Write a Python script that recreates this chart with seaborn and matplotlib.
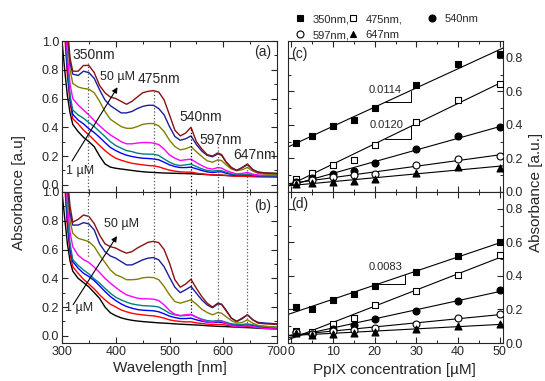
import numpy as np
import pandas as pd
import matplotlib
matplotlib.use("Agg")
import matplotlib.pyplot as plt
import seaborn as sns
from matplotlib.lines import Line2D
from matplotlib.ticker import MultipleLocator

# ---------------- data ----------------
wavelength = [300, 305, 310, 315, 320, 330, 340, 350, 360, 370, 380, 390, 400, 410, 420,
              430, 440, 450, 460, 470, 480, 490, 500, 510, 520, 530, 540, 550, 560, 570,
              580, 590, 597, 605, 615, 625, 635, 645, 655, 665, 680, 700]

conc = [1, 5, 10, 15, 20, 30, 40, 50]
conc_labels = ["1", "5", "10", "15", "20", "30", "40", "50"]

# panel (a) spectra
a_1 = [1.0, 0.8, 0.62, 0.5, 0.42, 0.37, 0.33, 0.3, 0.265, 0.2, 0.145, 0.123, 0.115, 0.11, 0.105,
       0.1, 0.095, 0.091, 0.088, 0.086, 0.084, 0.082, 0.081, 0.08, 0.079, 0.078, 0.077, 0.075, 0.073, 0.071,
       0.069, 0.067, 0.066, 0.065, 0.063, 0.061, 0.06, 0.059, 0.058, 0.057, 0.056, 0.055]
a_5 = [1.3, 1.05, 0.76, 0.57, 0.46, 0.424, 0.38, 0.347, 0.31, 0.273, 0.238, 0.208, 0.185, 0.171, 0.16,
       0.15, 0.144, 0.139, 0.134, 0.132, 0.125, 0.113, 0.102, 0.095, 0.09, 0.088, 0.088, 0.081, 0.076, 0.072,
       0.069, 0.068, 0.068, 0.065, 0.062, 0.06, 0.059, 0.059, 0.058, 0.057, 0.057, 0.056]
a_10 = [1.35, 1.1, 0.8, 0.6, 0.49, 0.45, 0.424, 0.39, 0.363, 0.33, 0.294, 0.26, 0.238, 0.22, 0.206,
        0.197, 0.19, 0.185, 0.183, 0.18, 0.174, 0.157, 0.139, 0.127, 0.12, 0.12, 0.123, 0.111, 0.1, 0.09,
        0.086, 0.09, 0.09, 0.081, 0.072, 0.067, 0.067, 0.069, 0.065, 0.062, 0.061, 0.06]
a_15 = [1.4, 1.15, 0.85, 0.62, 0.52, 0.486, 0.463, 0.433, 0.405, 0.37, 0.336, 0.3, 0.273, 0.255, 0.238,
        0.231, 0.22, 0.215, 0.213, 0.213, 0.204, 0.18, 0.157, 0.141, 0.134, 0.139, 0.144, 0.127, 0.111, 0.1,
        0.095, 0.1, 0.098, 0.088, 0.076, 0.07, 0.07, 0.074, 0.068, 0.064, 0.063, 0.062]
a_20 = [1.45, 1.2, 0.9, 0.7, 0.6, 0.555, 0.52, 0.486, 0.447, 0.41, 0.377, 0.347, 0.324, 0.3, 0.285,
        0.285, 0.29, 0.294, 0.294, 0.29, 0.28, 0.248, 0.208, 0.185, 0.169, 0.174, 0.178, 0.155, 0.134, 0.116,
        0.109, 0.12, 0.116, 0.1, 0.086, 0.076, 0.079, 0.086, 0.074, 0.068, 0.066, 0.065]
a_30 = [1.5, 1.25, 1.0, 0.8, 0.705, 0.68, 0.67, 0.665, 0.64, 0.58, 0.51, 0.456, 0.43, 0.405, 0.393,
        0.393, 0.405, 0.42, 0.426, 0.426, 0.41, 0.37, 0.31, 0.266, 0.243, 0.25, 0.266, 0.23, 0.197, 0.167,
        0.157, 0.174, 0.168, 0.14, 0.11, 0.098, 0.105, 0.12, 0.095, 0.08, 0.074, 0.07]
a_40 = [1.55, 1.3, 1.05, 0.85, 0.77, 0.76, 0.79, 0.78, 0.74, 0.66, 0.59, 0.55, 0.525, 0.5, 0.5,
        0.51, 0.53, 0.545, 0.553, 0.553, 0.53, 0.486, 0.405, 0.336, 0.31, 0.32, 0.34, 0.28, 0.235, 0.205,
        0.195, 0.215, 0.205, 0.16, 0.12, 0.1, 0.118, 0.14, 0.105, 0.088, 0.082, 0.078]
a_50 = [1.6, 1.35, 1.1, 0.88, 0.79, 0.79, 0.83, 0.83, 0.78, 0.69, 0.64, 0.61, 0.6, 0.58, 0.56,
        0.58, 0.61, 0.64, 0.65, 0.655, 0.645, 0.59, 0.486, 0.38, 0.34, 0.36, 0.4, 0.3, 0.25, 0.21,
        0.2, 0.222, 0.21, 0.16, 0.12, 0.1, 0.12, 0.145, 0.105, 0.088, 0.082, 0.08]

# panel (b) spectra
b_1 = [1.0, 0.82, 0.64, 0.52, 0.45, 0.4, 0.37, 0.34, 0.3, 0.26, 0.2, 0.16, 0.14, 0.125, 0.115,
       0.108, 0.103, 0.099, 0.096, 0.093, 0.09, 0.088, 0.086, 0.083, 0.081, 0.079, 0.077, 0.075, 0.073, 0.07,
       0.068, 0.066, 0.065, 0.064, 0.062, 0.06, 0.058, 0.057, 0.055, 0.053, 0.05, 0.048]
b_5 = [1.3, 1.05, 0.76, 0.57, 0.48, 0.435, 0.393, 0.36, 0.326, 0.285, 0.25, 0.22, 0.2, 0.18, 0.167,
       0.157, 0.15, 0.146, 0.141, 0.139, 0.132, 0.123, 0.111, 0.104, 0.1, 0.097, 0.097, 0.09, 0.086, 0.081,
       0.079, 0.079, 0.079, 0.074, 0.069, 0.067, 0.065, 0.065, 0.062, 0.06, 0.058, 0.056]
b_10 = [1.35, 1.1, 0.8, 0.6, 0.516, 0.47, 0.435, 0.412, 0.384, 0.347, 0.308, 0.273, 0.245, 0.222, 0.204,
        0.192, 0.183, 0.178, 0.176, 0.174, 0.167, 0.153, 0.137, 0.127, 0.12, 0.12, 0.123, 0.111, 0.102, 0.095,
        0.093, 0.095, 0.093, 0.086, 0.079, 0.074, 0.074, 0.076, 0.072, 0.065, 0.062, 0.058]
b_15 = [1.4, 1.15, 0.85, 0.64, 0.53, 0.49, 0.458, 0.43, 0.396, 0.366, 0.33, 0.296, 0.268, 0.25, 0.234,
        0.222, 0.215, 0.21, 0.208, 0.206, 0.2, 0.18, 0.157, 0.146, 0.139, 0.141, 0.146, 0.13, 0.116, 0.106,
        0.102, 0.106, 0.104, 0.095, 0.083, 0.079, 0.079, 0.083, 0.076, 0.069, 0.065, 0.06]
b_20 = [1.45, 1.2, 0.92, 0.72, 0.62, 0.56, 0.53, 0.51, 0.477, 0.44, 0.4, 0.366, 0.336, 0.308, 0.285,
        0.273, 0.262, 0.257, 0.257, 0.255, 0.245, 0.215, 0.176, 0.15, 0.141, 0.146, 0.15, 0.13, 0.111, 0.097,
        0.093, 0.102, 0.1, 0.088, 0.072, 0.065, 0.065, 0.072, 0.065, 0.056, 0.051, 0.046]
b_30 = [1.5, 1.25, 1.0, 0.8, 0.713, 0.678, 0.667, 0.655, 0.62, 0.56, 0.51, 0.458, 0.424, 0.41, 0.39,
        0.39, 0.393, 0.403, 0.407, 0.405, 0.39, 0.343, 0.285, 0.238, 0.227, 0.238, 0.25, 0.22, 0.185, 0.162,
        0.146, 0.162, 0.157, 0.134, 0.106, 0.088, 0.093, 0.111, 0.088, 0.072, 0.065, 0.058]
b_40 = [1.55, 1.3, 1.05, 0.85, 0.77, 0.77, 0.787, 0.778, 0.736, 0.64, 0.585, 0.555, 0.54, 0.516, 0.493,
        0.493, 0.51, 0.528, 0.54, 0.544, 0.528, 0.48, 0.407, 0.338, 0.3, 0.32, 0.343, 0.296, 0.25, 0.215,
        0.195, 0.222, 0.218, 0.176, 0.123, 0.1, 0.118, 0.146, 0.111, 0.093, 0.088, 0.083]
b_50 = [1.6, 1.35, 1.1, 0.9, 0.79, 0.81, 0.84, 0.83, 0.78, 0.7, 0.64, 0.62, 0.61, 0.59, 0.575,
        0.585, 0.61, 0.63, 0.65, 0.657, 0.648, 0.6, 0.505, 0.39, 0.338, 0.36, 0.393, 0.33, 0.273, 0.227,
        0.2, 0.227, 0.22, 0.18, 0.123, 0.1, 0.123, 0.146, 0.111, 0.088, 0.083, 0.079]

# panel (c) absorbance vs concentration
c_350 = [0.292, 0.335, 0.393, 0.431, 0.500, 0.635, 0.764, 0.824]
c_475 = [0.080, 0.115, 0.160, 0.190, 0.280, 0.415, 0.546, 0.643]
c_540 = [0.060, 0.083, 0.107, 0.127, 0.173, 0.256, 0.333, 0.385]
c_597 = [0.054, 0.070, 0.090, 0.100, 0.109, 0.161, 0.199, 0.212]
c_647 = [0.046, 0.054, 0.058, 0.067, 0.075, 0.113, 0.149, 0.143]

# panel (d)
d_350 = [0.215, 0.201, 0.255, 0.295, 0.342, 0.424, 0.519, 0.601]
d_475 = [0.070, 0.064, 0.113, 0.149, 0.225, 0.310, 0.408, 0.523]
d_540 = [0.064, 0.056, 0.084, 0.105, 0.143, 0.193, 0.249, 0.318]
d_597 = [0.064, 0.054, 0.070, 0.078, 0.090, 0.115, 0.149, 0.173]
d_647 = [0.060, 0.048, 0.054, 0.060, 0.064, 0.082, 0.100, 0.115]

series_labels = ["350nm", "475nm", "540nm", "597nm", "647nm"]
slope_c_350 = "0.0114"
slope_c_475 = "0.0120"
slope_d_350 = "0.0083"

# ---------------- style ----------------
sns.set_style("ticks")
plt.rcParams["font.family"] = ["Liberation Sans", "DejaVu Sans"]
plt.rcParams["axes.linewidth"] = 0.8
plt.rcParams["xtick.major.width"] = 0.8
plt.rcParams["ytick.major.width"] = 0.8
plt.rcParams["xtick.minor.width"] = 0.7
plt.rcParams["ytick.minor.width"] = 0.7

line_colors = ["#000000", "#ff0000", "#0000ff", "#008080", "#ff00ff", "#808000", "#1c1c9c", "#8b1010"]
pal = dict(zip(conc_labels, line_colors))

W, H = 545, 381
fig = plt.figure(figsize=(W / 100, H / 100), dpi=100)


def box(x0, y0, x1, y1):
    return [x0 / W, 1 - y1 / H, (x1 - x0) / W, (y1 - y0) / H]


ax_a = fig.add_axes(box(62, 41, 277, 192))
ax_b = fig.add_axes(box(62, 192, 277, 343))
ax_c = fig.add_axes(box(288, 41, 503, 192))
ax_d = fig.add_axes(box(288, 192, 503, 343))


def spectra_df(curves):
    rows = []
    for lab, vals in zip(conc_labels, curves):
        for w, v in zip(wavelength, vals):
            rows.append((w, v, lab))
    return pd.DataFrame(rows, columns=["wl", "A", "conc"])


df_a = spectra_df([a_1, a_5, a_10, a_15, a_20, a_30, a_40, a_50])
df_b = spectra_df([b_1, b_5, b_10, b_15, b_20, b_30, b_40, b_50])

for ax, df in [(ax_a, df_a), (ax_b, df_b)]:
    sns.lineplot(data=df, x="wl", y="A", hue="conc", palette=pal, hue_order=conc_labels,
                 estimator=None, sort=False, legend=False, lw=1.0, ax=ax)
    ax.set_xlim(300, 700)
    ax.set_ylim(-0.05, 1.0)
    ax.xaxis.set_major_locator(MultipleLocator(100))
    ax.xaxis.set_minor_locator(MultipleLocator(50))
    ax.yaxis.set_major_locator(MultipleLocator(0.2))
    ax.yaxis.set_minor_locator(MultipleLocator(0.1))
    ax.set_xlabel("")
    ax.set_ylabel("")
    ax.tick_params(which="both", direction="in", top=True, right=True, labelsize=9, pad=2)
    ax.tick_params(which="major", length=4)
    ax.tick_params(which="minor", length=2)
    ax.yaxis.set_major_formatter(matplotlib.ticker.FormatStrFormatter("%.1f"))

ax_a.tick_params(labelbottom=False)

# dotted guide lines
gray = "#555555"
for x, y0, col in [(349, 0.845, gray), (472, 0.655, gray), (540, 0.39, "k"), (590, 0.31, gray), (645, 0.15, gray)]:
    ax_a.plot([x, x], [y0, -0.05], ls=":", lw=0.9, color=col)
for x, y0, col in [(349, 0.55, gray), (472, 0.42, gray), (540, 0.15, "k"), (590, 0.09, gray), (645, 0.09, gray)]:
    ax_b.plot([x, x], [1.0, y0], ls=":", lw=0.9, color=col)

# peak labels
for txt, x, y in [("350nm", 359, 0.90), ("475nm", 480, 0.736), ("540nm", 558, 0.47),
                  ("597nm", 596, 0.31), ("647nm", 658, 0.21)]:
    ax_a.text(x, y, txt, fontsize=10, ha="center", va="center")

ax_a.text(403, 0.748, "50 µM", fontsize=9, ha="center", va="center")
ax_a.text(334, 0.097, "1 µM", fontsize=9, ha="center", va="center")
ax_a.annotate("", xy=(406, 0.695), xytext=(316, 0.15),
              arrowprops=dict(arrowstyle="-|>", lw=0.8, color="k", mutation_scale=8))
ax_a.text(674, 0.925, "(a)", fontsize=10, ha="center", va="center")

ax_b.text(411, 0.78, "50 µM", fontsize=9, ha="center", va="center")
ax_b.text(332, 0.19, "1 µM", fontsize=9, ha="center", va="center")
ax_b.annotate("", xy=(405, 0.71), xytext=(318, 0.2),
              arrowprops=dict(arrowstyle="-|>", lw=0.8, color="k", mutation_scale=8))
ax_b.text(674, 0.905, "(b)", fontsize=10, ha="center", va="center")

# ---------------- right panels ----------------
markers = {"350nm": ("s", "k"), "475nm": ("s", "white"), "540nm": ("o", "k"),
           "597nm": ("o", "white"), "647nm": ("^", "k")}

for ax, sets in [(ax_c, [c_350, c_475, c_540, c_597, c_647]),
                 (ax_d, [d_350, d_475, d_540, d_597, d_647])]:
    ax.set_xlim(-0.8, 50.8)
    ax.set_ylim(0, 0.9)
    for lab, vals in zip(series_labels, sets):
        sns.regplot(x=np.array(conc, float), y=np.array(vals), scatter=False, ci=None,
                    truncate=False, color="k", line_kws=dict(lw=0.8), ax=ax)
    for lab, vals in zip(series_labels, sets):
        m, fc = markers[lab]
        sns.scatterplot(x=conc, y=vals, marker=m, s=25, color=fc, edgecolor="k",
                        linewidth=0.8, zorder=5, ax=ax)
    ax.set_xlim(-0.8, 50.8)
    ax.set_ylim(0, 0.9)
    ax.xaxis.set_major_locator(MultipleLocator(10))
    ax.xaxis.set_minor_locator(MultipleLocator(5))
    ax.yaxis.set_major_locator(MultipleLocator(0.2))
    ax.yaxis.set_minor_locator(MultipleLocator(0.1))
    ax.set_xlabel("")
    ax.set_ylabel("")
    ax.tick_params(which="both", direction="in", top=True, right=True, left=True,
                   labelleft=False, labelright=True, labelsize=9, pad=2)
    ax.tick_params(which="major", length=4)
    ax.tick_params(which="minor", length=2)
    ax.yaxis.set_major_formatter(matplotlib.ticker.FormatStrFormatter("%.1f"))

ax_c.tick_params(labelbottom=False)


def slope_triangle(ax, vals, x0, x1, text, tx, ty):
    k, b0 = np.polyfit(conc, vals, 1)
    y0 = k * x0 + b0
    y1 = k * x1 + b0
    ax.plot([x0, x1, x1], [y0, y0, y1], color="k", lw=0.7)
    ax.text(tx, ty, text, fontsize=8, ha="center", va="center")


slope_triangle(ax_c, c_350, 22.5, 28.6, slope_c_350, 22.4, 0.61)
slope_triangle(ax_c, c_475, 22.5, 28.7, slope_c_475, 22.9, 0.40)
slope_triangle(ax_d, d_350, 21.1, 27.2, slope_d_350, 22.5, 0.452)

ax_c.text(1.9, 0.82, "(c)", fontsize=10, ha="center", va="center")
ax_d.text(1.9, 0.83, "(d)", fontsize=10, ha="center", va="center")


# legend: one small block per column
def handle(lab):
    m, fc = markers[lab]
    return Line2D([], [], ls="none", marker=m, markersize=5, markerfacecolor=fc,
                  markeredgecolor="k", markeredgewidth=0.8)


leg_kw = dict(frameon=False, fontsize=8, handlelength=0.6, handletextpad=0.8,
              labelspacing=0.55, borderpad=0, borderaxespad=0, loc="upper left")
fig.legend([handle("350nm"), handle("597nm")], ["350nm,", "597nm,"],
           bbox_to_anchor=(297 / W, 1 - 14 / H), **leg_kw)
fig.legend([handle("475nm"), handle("647nm")], ["475nm,", "647nm"],
           bbox_to_anchor=(350 / W, 1 - 14 / H), **leg_kw)
fig.legend([handle("540nm")], ["540nm"],
           bbox_to_anchor=(429 / W, 1 - 14 / H), **leg_kw)

# axis labels
fig.text(19 / W, 1 - 192 / H, "Absorbance [a.u]", rotation=90, fontsize=11, ha="center", va="center")
fig.text(536 / W, 1 - 192 / H, "Absorbance [a.u.]", rotation=90, fontsize=11, ha="center", va="center")
fig.text(170 / W, 1 - 368 / H, "Wavelength [nm]", fontsize=11, ha="center", va="center")
fig.text(394 / W, 1 - 370 / H, "PpIX concentration [µM]", fontsize=11, ha="center", va="center")

fig.savefig("out.png", dpi=100)
